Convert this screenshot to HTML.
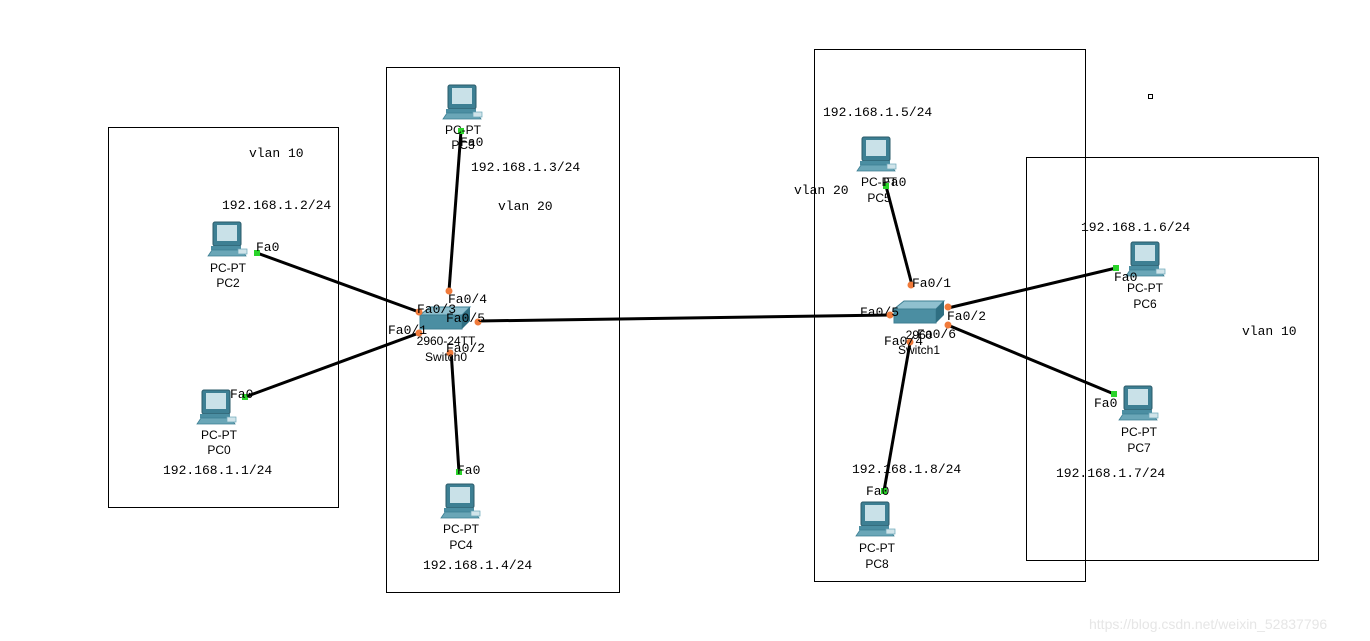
<!DOCTYPE html>
<html><head><meta charset="utf-8"><style>
html,body{margin:0;padding:0;background:#fff;}
svg{display:block;}
.m{font-family:"Liberation Mono",monospace;font-size:13px;fill:#000;}
.s{font-family:"Liberation Sans",sans-serif;font-size:12px;fill:#000;}
</style></head><body>
<svg width="1370" height="641" viewBox="0 0 1370 641" xmlns="http://www.w3.org/2000/svg">
<defs>
<g id="pc">
<rect x="5" y="0" width="28" height="24" rx="2" fill="#3d7f93" stroke="#2b5b6a"/>
<rect x="9" y="3" width="20" height="16" fill="#c9e1e8"/>
<rect x="3" y="24" width="30" height="4" fill="#4b8ea2"/>
<polygon points="0,34 4,28 34,28 38,34" fill="#6aa6b7" stroke="#3d7f93" stroke-width="0.8"/>
<rect x="30" y="27" width="9" height="5" fill="#d0e4ea" stroke="#6aa6b7" stroke-width="0.7"/>
</g>
<g id="sw">
<polygon points="0,8 10,0 50,0 42,8" fill="#8fc0cf" stroke="#3d7f93"/>
<rect x="0" y="8" width="42" height="14" fill="#4b8ea2" stroke="#3d7f93"/>
<polygon points="42,8 50,0 50,14 42,22" fill="#2f6f82"/>
</g>
</defs>
<!-- boxes -->
<g fill="none" stroke="#000" stroke-width="1">
<rect x="108.5" y="127.5" width="230" height="380"/>
<rect x="386.5" y="67.5" width="233" height="525"/>
<rect x="814.5" y="49.5" width="271" height="532"/>
<rect x="1026.5" y="157.5" width="292" height="403"/>
<rect x="1148.5" y="94.5" width="4" height="4"/>
</g>
<!-- links -->
<g stroke="#000" stroke-width="3" fill="none">
<line x1="257" y1="253" x2="419" y2="312"/>
<line x1="245" y1="397" x2="419" y2="333"/>
<line x1="461" y1="131" x2="449" y2="291"/>
<line x1="459" y1="472" x2="451" y2="350"/>
<line x1="478" y1="321" x2="890" y2="315"/>
<line x1="886" y1="186" x2="912" y2="285"/>
<line x1="1116" y1="268" x2="948" y2="308"/>
<line x1="1114" y1="394" x2="950" y2="326"/>
<line x1="884" y1="491" x2="910" y2="343"/>
</g>
<!-- PCs -->
<use href="#pc" x="208" y="222"/>
<use href="#pc" x="197" y="390"/>
<use href="#pc" x="443" y="85"/>
<use href="#pc" x="441" y="484"/>
<use href="#pc" x="857" y="137"/>
<use href="#pc" x="1126" y="242"/>
<use href="#pc" x="1119" y="386"/>
<use href="#pc" x="856" y="502"/>
<!-- switches -->
<use href="#sw" x="420" y="307"/>
<use href="#sw" x="894" y="301"/>
<!-- port dots -->
<g fill="#2ad32a">
<rect x="254" y="250" width="6" height="6"/>
<rect x="242" y="394" width="6" height="6"/>
<rect x="458" y="128" width="6" height="6"/>
<rect x="456" y="469" width="6" height="6"/>
<rect x="883" y="183" width="6" height="6"/>
<rect x="1113" y="265" width="6" height="6"/>
<rect x="1111" y="391" width="6" height="6"/>
<rect x="881" y="488" width="6" height="6"/>
</g>
<g fill="#f07a3a">
<circle cx="419" cy="312" r="3.5"/><circle cx="419" cy="333" r="3.5"/>
<circle cx="449" cy="291" r="3.5"/><circle cx="478" cy="322" r="3.5"/>
<circle cx="450" cy="353" r="3.5"/>
<circle cx="890" cy="315" r="3.5"/><circle cx="911" cy="285" r="3.5"/>
<circle cx="948" cy="307" r="3.5"/><circle cx="948" cy="325" r="3.5"/>
<circle cx="910" cy="342" r="3.5"/>
</g>
<!-- PC labels -->
<g class="s" text-anchor="middle">
<text x="228" y="272">PC-PT</text><text x="228" y="287">PC2</text>
<text x="219" y="439">PC-PT</text><text x="219" y="454">PC0</text>
<text x="463" y="134">PC-PT</text><text x="463" y="149">PC3</text>
<text x="461" y="533">PC-PT</text><text x="461" y="549">PC4</text>
<text x="879" y="186">PC-PT</text><text x="879" y="202">PC5</text>
<text x="1145" y="292">PC-PT</text><text x="1145" y="308">PC6</text>
<text x="1139" y="436">PC-PT</text><text x="1139" y="452">PC7</text>
<text x="877" y="552">PC-PT</text><text x="877" y="568">PC8</text>
<text x="446" y="345">2960-24TT</text><text x="446" y="361">Switch0</text>
<text x="919" y="339">2960</text><text x="919" y="354">Switch1</text>
</g>
<!-- port labels -->
<g class="m">
<text x="256" y="251">Fa0</text>
<text x="230" y="398">Fa0</text>
<text x="460" y="146">Fa0</text>
<text x="457" y="474">Fa0</text>
<text x="883" y="186">Fa0</text>
<text x="1114" y="281">Fa0</text>
<text x="1094" y="407">Fa0</text>
<text x="866" y="495">Fa0</text>
<text x="417" y="313">Fa0/3</text>
<text x="448" y="303">Fa0/4</text>
<text x="446" y="322">Fa0/5</text>
<text x="388" y="334">Fa0/1</text>
<text x="446" y="352">Fa0/2</text>
<text x="912" y="287">Fa0/1</text>
<text x="860" y="316">Fa0/5</text>
<text x="947" y="320">Fa0/2</text>
<text x="917" y="338">Fa0/6</text>
<text x="884" y="345">Fa0/4</text>
</g>
<!-- IPs & vlans -->
<g class="m">
<text x="249" y="157">vlan  10</text>
<text x="222" y="209">192.168.1.2/24</text>
<text x="163" y="474">192.168.1.1/24</text>
<text x="471" y="171">192.168.1.3/24</text>
<text x="498" y="210">vlan 20</text>
<text x="423" y="569">192.168.1.4/24</text>
<text x="823" y="116">192.168.1.5/24</text>
<text x="794" y="194">vlan 20</text>
<text x="1081" y="231">192.168.1.6/24</text>
<text x="1242" y="335">vlan 10</text>
<text x="852" y="473">192.168.1.8/24</text>
<text x="1056" y="477">192.168.1.7/24</text>
</g>
<text x="1089" y="629" font-family="Liberation Sans, sans-serif" font-size="14" fill="#e6e6e6">https://blog.csdn.net/weixin_52837796</text>
</svg>
</body></html>
